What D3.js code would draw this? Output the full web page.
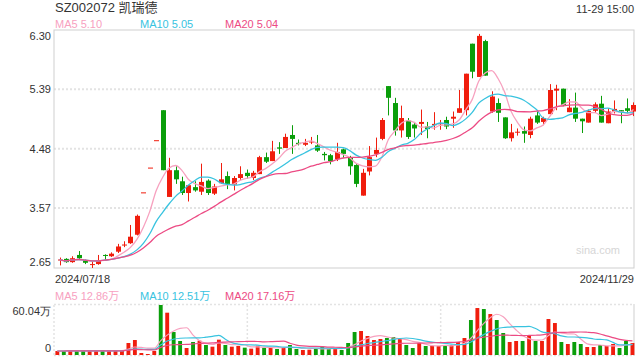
<!DOCTYPE html>
<html>
<head>
<meta charset="utf-8">
<script src="https://cdn.jsdelivr.net/npm/d3@7"></script>
<style>
  body { margin: 0; background: #fff; }
  svg { font-family: "Liberation Sans", Arial, "Noto Sans CJK SC", sans-serif; }
</style>
</head>
<body>
<svg id="chart" width="640" height="360"></svg>
<script>
// trading days, 2024
const julDays = [18, 19, 22, 23, 24, 25, 26, 29, 30, 31];
const augDays = [1, 2, 5, 6, 7, 8, 9, 12, 13, 14, 15, 16, 19, 20, 21, 22, 23, 26, 27, 28, 29, 30];
const sepDays = [2, 3, 4, 5, 6, 9, 10, 11, 12, 13, 18, 19, 20, 23, 24, 25, 26, 27, 30];
const octDays = [8, 9, 10, 11, 14, 15, 16, 17, 18, 21, 22, 23, 24, 25, 28, 29, 30, 31];
const novDays = [1, 4, 5, 6, 7, 8, 11, 12, 13, 14, 15, 18, 19, 20, 21, 22, 25, 26, 27, 28, 29];

const openP = [2.77, 2.79, 2.74, 2.85, 2.77, 2.70, 2.71, 2.85, 2.83, 2.90,
  3.00, 3.03, 3.16, 3.81, 4.19, 4.61, 5.07, 3.74, 4.15, 3.98,
  3.80, 3.89, 3.82, 3.99, 3.79, 3.95, 4.06, 3.93, 4.03, 4.11,
  4.03, 4.09, 4.35, 4.29, 4.50, 4.49, 4.69, 4.57, 4.54, 4.58,
  4.53, 4.40, 4.38, 4.32, 4.47, 4.35, 4.23, 3.76, 4.13, 4.40,
  4.63, 5.44, 5.18, 4.76, 4.91, 4.85, 4.86, 4.82, 4.84, 4.86,
  4.92, 4.94, 5.03, 5.07, 6.09, 5.58, 6.13, 5.05, 5.18, 4.96,
  4.64, 4.73, 4.75, 4.69, 4.99, 4.89, 5.01, 5.37, 5.40, 5.04,
  5.11, 4.94, 4.88, 5.06, 5.17, 4.87, 5.05, 5.07, 5.10, 5.05];
const highP = [2.81, 2.80, 2.83, 2.91, 2.78, 2.76, 2.85, 2.86, 2.89, 3.02,
  3.06, 3.31, 3.47, 3.81, 4.19, 4.61, 5.07, 4.34, 4.21, 4.05,
  3.92, 3.98, 4.25, 4.01, 3.94, 4.26, 4.13, 4.06, 4.21, 4.16,
  4.14, 4.37, 4.42, 4.60, 4.58, 4.71, 4.84, 4.62, 4.63, 4.66,
  4.69, 4.43, 4.40, 4.57, 4.48, 4.37, 4.26, 4.17, 4.52, 4.65,
  4.95, 5.44, 5.26, 5.14, 4.95, 4.89, 5.08, 4.89, 5.04, 4.92,
  4.97, 5.05, 5.38, 5.63, 6.09, 6.24, 6.15, 5.36, 5.25, 4.96,
  4.86, 4.79, 4.82, 4.97, 5.05, 4.97, 5.47, 5.46, 5.40, 5.24,
  5.34, 4.94, 5.08, 5.19, 5.29, 5.10, 5.22, 5.07, 5.25, 5.19];
const lowP = [2.69, 2.73, 2.73, 2.78, 2.71, 2.65, 2.70, 2.76, 2.82, 2.88,
  2.97, 3.02, 3.15, 3.81, 4.19, 4.61, 4.15, 3.74, 3.94, 3.77,
  3.67, 3.82, 3.77, 3.77, 3.77, 3.94, 3.86, 3.84, 4.00, 4.02,
  4.00, 4.09, 4.26, 4.29, 4.40, 4.49, 4.40, 4.53, 4.52, 4.55,
  4.43, 4.30, 4.24, 4.29, 4.34, 4.08, 3.89, 3.76, 4.07, 4.35,
  4.61, 4.99, 4.68, 4.65, 4.63, 4.65, 4.69, 4.64, 4.77, 4.77,
  4.78, 4.80, 5.03, 4.99, 5.56, 5.58, 5.60, 5.03, 4.89, 4.63,
  4.59, 4.68, 4.57, 4.64, 4.86, 4.84, 5.01, 5.07, 5.13, 5.04,
  4.89, 4.72, 4.88, 5.03, 4.88, 4.87, 5.02, 4.87, 5.02, 4.98];
const closeP = [2.78, 2.74, 2.80, 2.80, 2.73, 2.71, 2.76, 2.84, 2.87, 2.98,
  3.01, 3.13, 3.45, 3.81, 4.19, 4.61, 4.15, 4.15, 4.01, 3.80,
  3.92, 3.84, 3.97, 3.80, 3.90, 4.01, 3.94, 4.03, 4.09, 4.06,
  4.11, 4.35, 4.28, 4.44, 4.48, 4.66, 4.63, 4.55, 4.57, 4.59,
  4.45, 4.38, 4.29, 4.43, 4.40, 4.21, 3.94, 4.11, 4.35, 4.46,
  4.92, 5.26, 4.76, 4.95, 4.66, 4.79, 4.89, 4.78, 4.86, 4.87,
  4.82, 4.97, 5.10, 5.63, 5.66, 6.21, 5.60, 5.28, 5.03, 4.64,
  4.73, 4.74, 4.71, 4.94, 4.88, 4.95, 5.38, 5.40, 5.15, 5.11,
  4.94, 4.90, 5.06, 5.16, 4.88, 5.05, 5.09, 5.05, 5.06, 5.15];
// volume, 万股
const volume = [4.8, 4.8, 5.2, 4.8, 4.8, 4.8, 5.2, 5.2, 5.2, 5.2,
  5.2, 14.4, 18.0, 2.4, 1.2, 4.8, 60.04, 50.8, 27.6, 16.8,
  8.4, 15.6, 17.2, 12.0, 10.0, 18.4, 12.0, 10.0, 10.8, 8.8,
  7.6, 11.2, 8.8, 8.8, 7.2, 8.8, 12.0, 7.2, 6.0, 6.4,
  7.6, 10.0, 7.2, 7.2, 6.0, 14.4, 27.6, 28.8, 22.8, 18.0,
  19.2, 20.4, 21.6, 19.2, 12.0, 8.4, 14.4, 10.8, 10.8, 10.8,
  10.8, 12.0, 15.6, 20.4, 42.0, 56.4, 55.2, 49.2, 42.0, 26.4,
  15.6, 16.8, 16.8, 22.8, 16.8, 16.8, 43.2, 38.4, 15.6, 13.2,
  15.6, 13.2, 9.6, 9.6, 12.0, 10.8, 13.2, 8.4, 16.8, 14.4];

const priceTicks = [6.30, 5.39, 4.48, 3.57, 2.65];
const volTicks = [60.04, 0];
const maPeriods = [5, 10, 20];
const maPriceLabels = ["5.10", "5.05", "5.04"];
const maVolLabels = ["12.86万", "12.51万", "17.16万"];

const title = "SZ002072 凯瑞德";
const timeLabel = "11-29 15:00";

const dates = [].concat(
  julDays.map(d => "2024/07/" + String(d).padStart(2, "0")),
  augDays.map(d => "2024/08/" + String(d).padStart(2, "0")),
  sepDays.map(d => "2024/09/" + String(d).padStart(2, "0")),
  octDays.map(d => "2024/10/" + String(d).padStart(2, "0")),
  novDays.map(d => "2024/11/" + String(d).padStart(2, "0"))
);

const RED = "#f01d0d", GREEN = "#0a9e0a";
const maColors = ["#f7a1bf", "#38c3df", "#ec4b84"];
const gridColor = "#e3e3e3", borderColor = "#cfcfcf";

const main = { left: 54, right: 634, top: 30, bottom: 268 };
const vol = { top: 305, bottom: 355 };

const svg = d3.select("#chart");
const idx = d3.range(dates.length);

const x = d3.scaleBand().domain(idx).range([57, 636]).paddingInner(0.22);
const xv = d3.scaleBand().domain(idx).range([55.4, 634.4]).paddingInner(0.4);
const y = d3.scaleLinear().domain([2.65, 6.30]).range([main.bottom, main.top]);
const yv = d3.scaleLinear().domain([0, 60.04]).range([vol.bottom, vol.top]);

const isUp = i => closeP[i] > openP[i] ||
  (closeP[i] === openP[i] && (i === 0 || closeP[i] >= closeP[i - 1]));

function movingAvg(arr, n) {
  return arr.map((v, i) => d3.mean(arr.slice(Math.max(0, i - n + 1), i + 1)));
}

// title & time
svg.append("text").attr("x", 55).attr("y", 12).attr("font-size", 13)
  .attr("fill", "#333").text(title);
svg.append("text").attr("x", 634).attr("y", 13).attr("font-size", 11)
  .attr("text-anchor", "end").attr("fill", "#333").text(timeLabel);

// legends
const legX = [55, 140, 225];
maPeriods.forEach((p, k) => {
  svg.append("text").attr("x", legX[k]).attr("y", 27.5).attr("font-size", 11)
    .attr("fill", maColors[k]).text("MA" + p + " " + maPriceLabels[k]);
  svg.append("text").attr("x", legX[k]).attr("y", 299.5).attr("font-size", 11)
    .attr("fill", maColors[k]).text("MA" + p + " " + maVolLabels[k]);
});

// main grid
svg.append("g")
  .selectAll("line")
  .data(priceTicks.slice(1, -1))
  .enter()
  .append("line")
  .attr("x1", main.left).attr("x2", main.right)
  .attr("y1", d => y(d)).attr("y2", d => y(d))
  .attr("stroke", gridColor).attr("stroke-width", 2)
  .attr("stroke-dasharray", "2,2");

svg.append("rect")
  .attr("x", main.left).attr("y", main.top)
  .attr("width", main.right - main.left).attr("height", main.bottom - main.top)
  .attr("fill", "none").attr("stroke", borderColor);

// y axis labels
const yAxis = svg.append("g")
  .attr("transform", `translate(${main.left - 3},0)`)
  .call(d3.axisLeft(y).tickValues(priceTicks).tickFormat(d3.format(".2f")).tickSize(0).tickPadding(0));
yAxis.select(".domain").remove();
yAxis.selectAll("text")
  .attr("font-size", 11).attr("fill", "#333")
  .attr("font-family", "Liberation Sans, Arial, sans-serif")
  .attr("dy", (d, i) => i === 0 ? "0.85em" : i === priceTicks.length - 1 ? "-0.2em" : "0.32em");

// watermark
svg.append("text").attr("x", 620).attr("y", 254).attr("text-anchor", "end")
  .attr("font-size", 11).attr("fill", "#d6d6d6").text("sina.com");

// x labels
svg.append("text").attr("x", 55).attr("y", 283).attr("font-size", 11)
  .attr("fill", "#333").text(dates[0]);
svg.append("text").attr("x", 634).attr("y", 283).attr("font-size", 11)
  .attr("text-anchor", "end").attr("fill", "#333").text(dates[dates.length - 1]);

// candles
const bw = x.bandwidth();
const candles = svg.append("g")
  .selectAll("g.candle")
  .data(idx)
  .enter()
  .append("g")
  .attr("class", "candle");
candles.append("line")
  .attr("x1", i => Math.round(x(i) + bw / 2) + 0.5)
  .attr("x2", i => Math.round(x(i) + bw / 2) + 0.5)
  .attr("y1", i => y(highP[i])).attr("y2", i => y(lowP[i]))
  .attr("stroke", i => isUp(i) ? RED : GREEN).attr("stroke-width", 1);
candles.append("rect")
  .attr("x", i => Math.round(x(i) + bw / 2) - 2)
  .attr("width", 5)
  .attr("y", i => y(Math.max(openP[i], closeP[i])))
  .attr("height", i => Math.max(1, Math.abs(y(openP[i]) - y(closeP[i]))))
  .attr("fill", i => isUp(i) ? RED : GREEN);

// price MAs
maPeriods.forEach((p, k) => {
  const ma = movingAvg(closeP, p);
  svg.append("path")
    .datum(idx)
    .attr("fill", "none").attr("stroke", maColors[k]).attr("stroke-width", 1.3)
    .attr("d", d3.line().x(i => x(i) + bw / 2).y(i => y(ma[i])).curve(d3.curveMonotoneX));
});

// volume panel frame
const third = (main.right - main.left) / 3;
const vFrame = svg.append("g").attr("stroke", gridColor).attr("stroke-dasharray", "2,2").attr("stroke-width", 1.5);
vFrame.append("line").attr("x1", main.left).attr("x2", main.right).attr("y1", vol.top - 0.5).attr("y2", vol.top - 0.5);
vFrame.append("line").attr("x1", main.left).attr("x2", main.right).attr("y1", vol.bottom + 0.5).attr("y2", vol.bottom + 0.5);
[0, 1, 2].forEach(k => {
  vFrame.append("line")
    .attr("x1", main.left + k * third).attr("x2", main.left + k * third)
    .attr("y1", vol.top).attr("y2", vol.bottom);
});
svg.append("line").attr("x1", main.right).attr("x2", main.right)
  .attr("y1", vol.top - 1).attr("y2", vol.bottom + 1).attr("stroke", borderColor);

const vAxis = svg.append("g")
  .attr("transform", `translate(${main.left - 3},0)`)
  .call(d3.axisLeft(yv).tickValues(volTicks).tickFormat(d => d === 0 ? "0" : d3.format(".2f")(d) + "万").tickSize(0).tickPadding(0));
vAxis.select(".domain").remove();
vAxis.selectAll("text")
  .attr("font-size", 11).attr("fill", "#333")
  .attr("dy", (d, i) => i === 0 ? "0.85em" : "-0.3em");

// volume bars
const vbw = xv.bandwidth();
svg.append("g")
  .selectAll("rect")
  .data(idx)
  .enter()
  .append("rect")
  .attr("x", i => xv(i))
  .attr("width", vbw)
  .attr("y", i => yv(volume[i]))
  .attr("height", i => yv(0) - yv(volume[i]))
  .attr("fill", i => isUp(i) ? RED : GREEN);

maPeriods.forEach((p, k) => {
  const ma = movingAvg(volume, p);
  svg.append("path")
    .datum(idx)
    .attr("fill", "none").attr("stroke", maColors[k]).attr("stroke-width", 1.2)
    .attr("d", d3.line().x(i => xv(i) + vbw / 2).y(i => yv(ma[i])).curve(d3.curveMonotoneX));
});
</script>
</body>
</html>
